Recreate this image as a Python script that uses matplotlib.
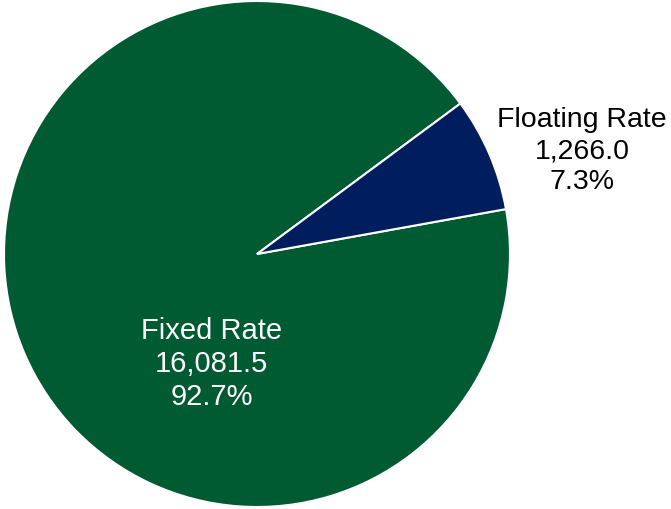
import matplotlib.pyplot as plt

# data
categories = ["Fixed Rate", "Floating Rate"]
values = [16081.5, 1266.0]
colors = ["#005A32", "#001E5E"]

plt.rcParams['font.family'] = ['Liberation Sans', 'DejaVu Sans']

fig = plt.figure(figsize=(6.71, 5.10), dpi=100)
ax = fig.add_axes([0, 0, 1, 1])

wedges, _ = ax.pie(values, colors=colors, startangle=36.5, counterclock=True,
                   radius=1.0, wedgeprops=dict(edgecolor="white", linewidth=1.5))

total = sum(values)
labels = ["%s\n%s\n%.1f%%" % (c, format(v, ",.1f"), v / total * 100)
          for c, v in zip(categories, values)]

# label placement (pie units)
ax.text(-0.18, -0.43, labels[0], color="white", fontsize=21,
        ha="center", va="center", multialignment="center", linespacing=1.22)
ax.text(1.285, 0.41, labels[1], color="black", fontsize=20.5,
        ha="center", va="center", multialignment="center", linespacing=1.25)

# pie center at (257,255) px, radius 253 px
ax.set_xlim(-257 / 253, (671 - 257) / 253)
ax.set_ylim(-(510 - 255) / 253, 255 / 253)
ax.set_aspect("equal")
ax.axis("off")

fig.savefig("out.png", dpi=100, facecolor="white")
